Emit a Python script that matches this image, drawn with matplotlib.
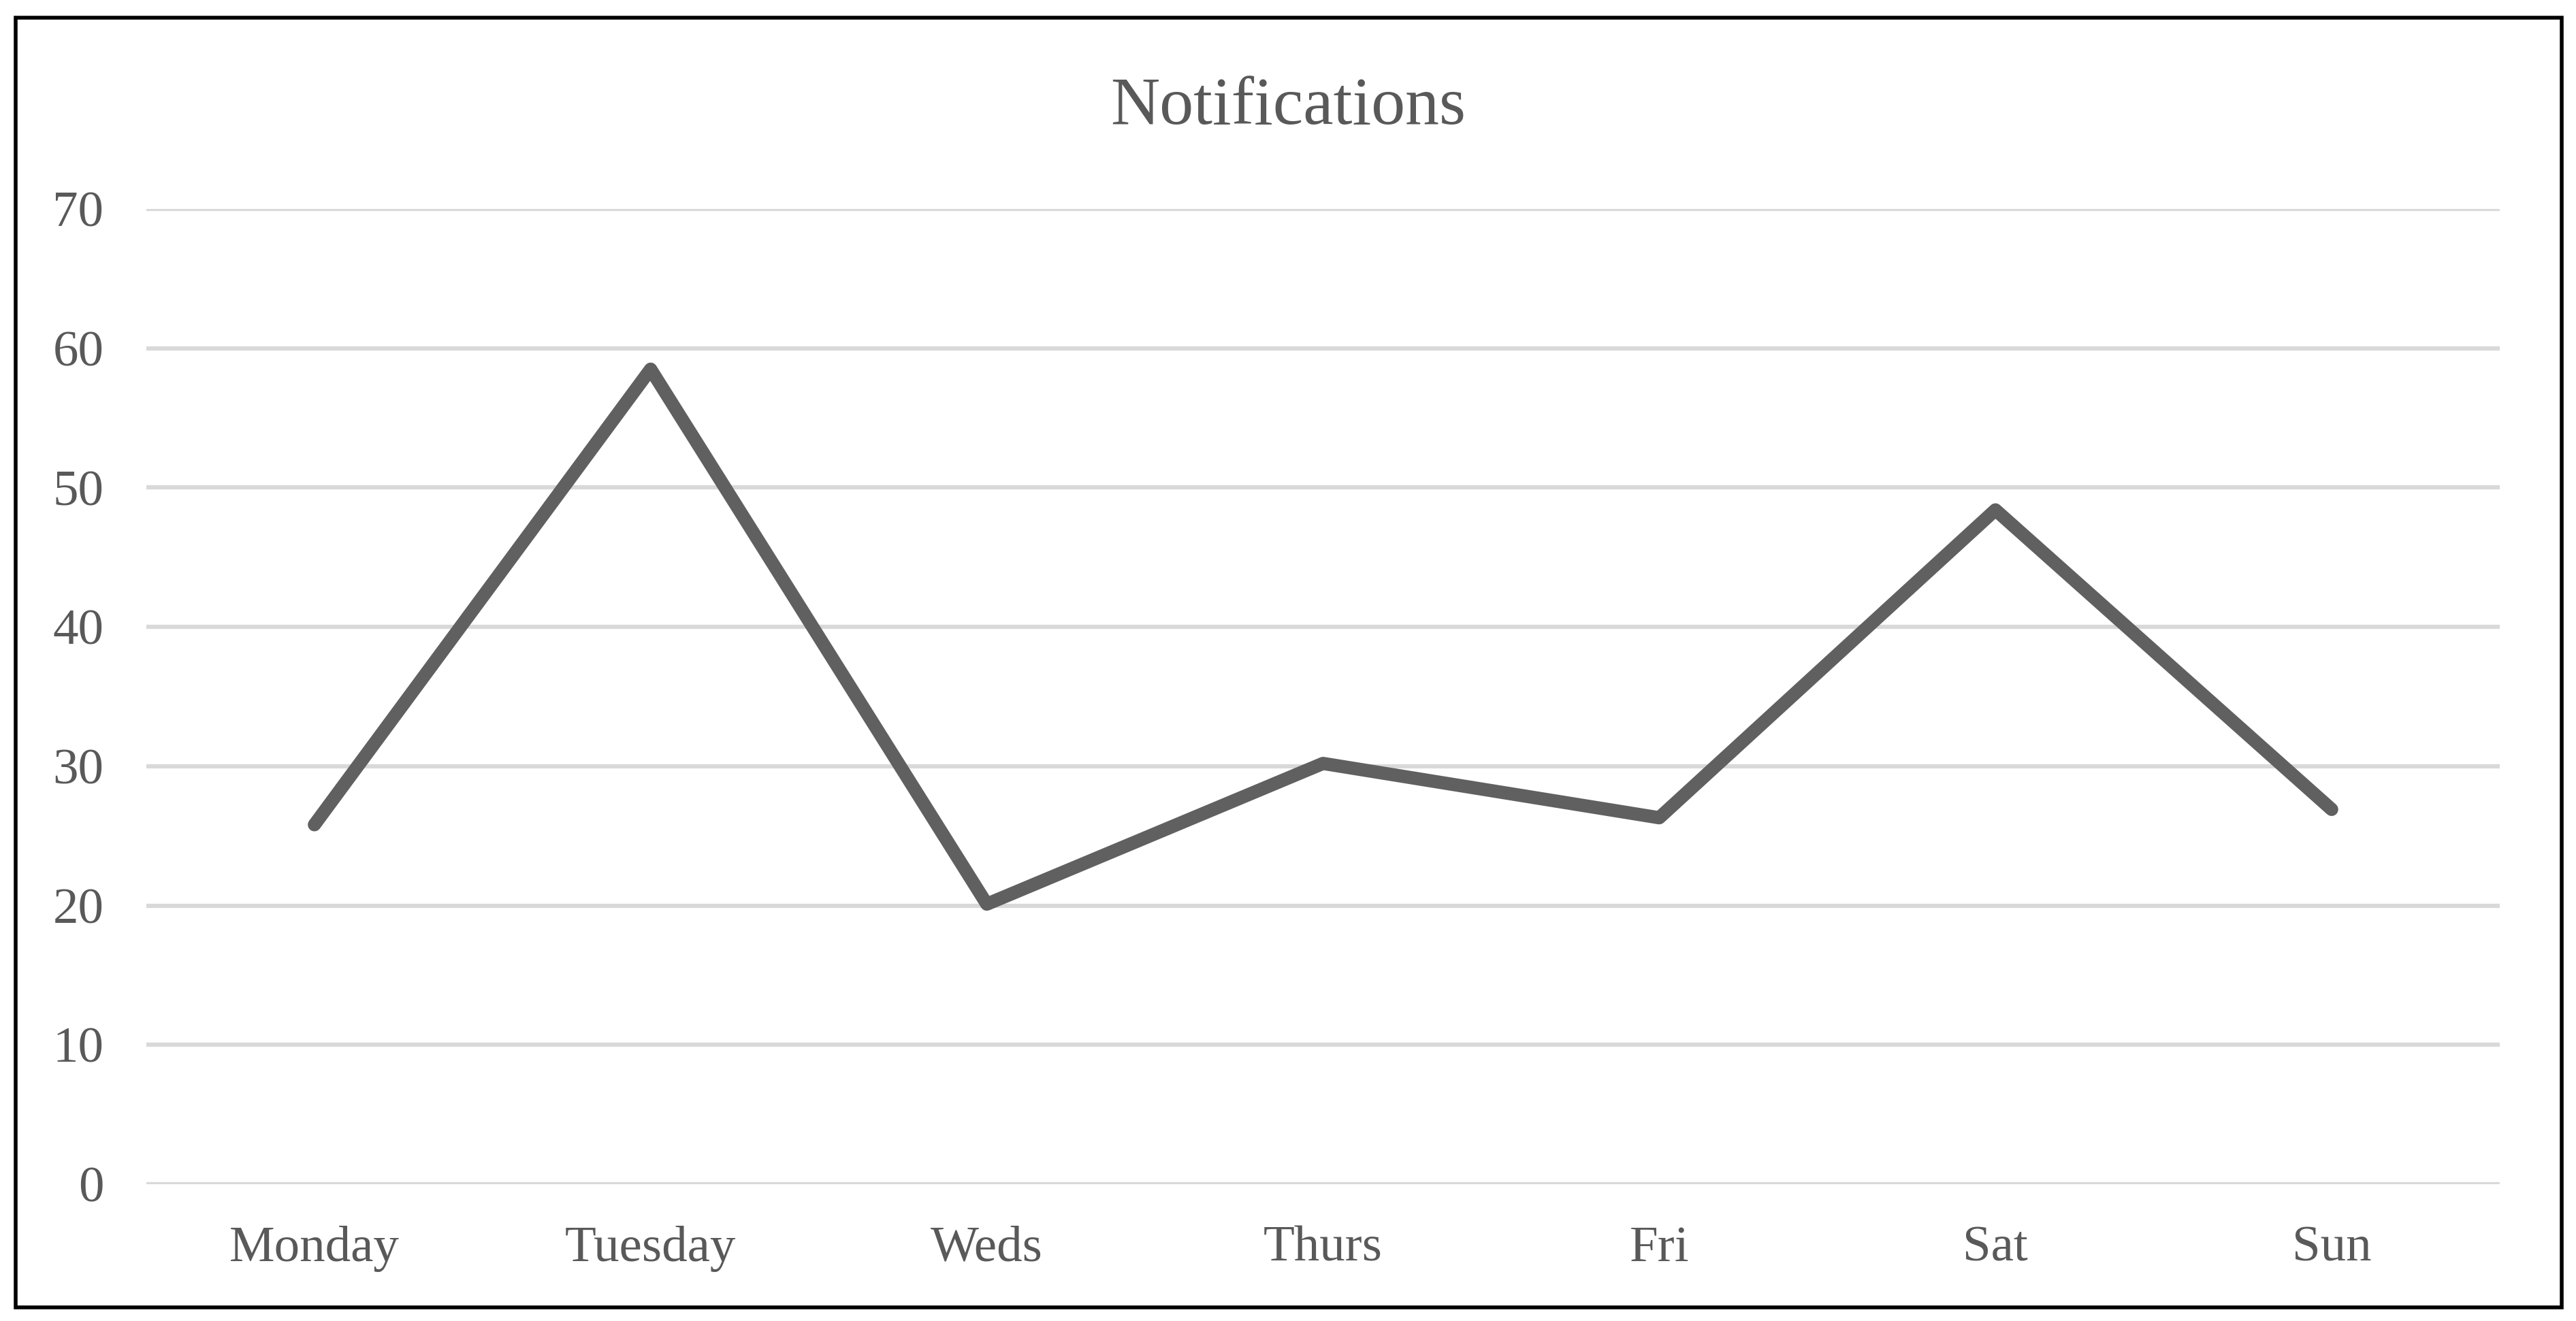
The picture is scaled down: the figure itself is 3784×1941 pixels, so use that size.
import matplotlib.pyplot as plt
from matplotlib.patches import Rectangle

# data
days = ["Monday", "Tuesday", "Weds", "Thurs", "Fri", "Sat", "Sun"]
notifications = [25.8, 58.5, 20.1, 30.2, 26.3, 48.4, 26.9]
y_ticks = [0, 10, 20, 30, 40, 50, 60, 70]

plt.rcParams['font.family'] = ['Liberation Serif', 'DejaVu Serif']
text_col = '#595959'

fig = plt.figure(figsize=(37.84, 19.41), dpi=100)
ax = fig.add_axes([0.0568, 0.1036, 0.9136, 0.7382])

x = list(range(len(days)))
ax.plot(x, notifications, color='#606060', lw=14,
        solid_capstyle='round', solid_joinstyle='round', zorder=3)

ax.set_xlim(-0.5, len(days) - 0.5)
ax.set_ylim(0, 70)
ax.set_yticks(y_ticks)
ax.set_xticks(x)
ax.set_xticklabels(days)

# gridlines only, no spines
ax.grid(axis='y', color='#d9d9d9', lw=4.5, zorder=0)
for s in ax.spines.values():
    s.set_visible(False)
ax.tick_params(axis='both', length=0, labelsize=54, labelcolor=text_col)
ax.tick_params(axis='y', pad=45)
ax.tick_params(axis='x', pad=44)
ax.set_axisbelow(True)

fig.text(0.5, 1 - 182 / 1941, "Notifications", ha='center', va='baseline',
         fontsize=72, color=text_col)

# chart border
fig.patches.append(Rectangle((23 / 3784, 1 - 1921 / 1941),
                             (3763 - 23) / 3784, (1921 - 26) / 1941,
                             transform=fig.transFigure, fill=False,
                             edgecolor='black', lw=4))

fig.savefig("out.png", dpi=100, facecolor='white')
